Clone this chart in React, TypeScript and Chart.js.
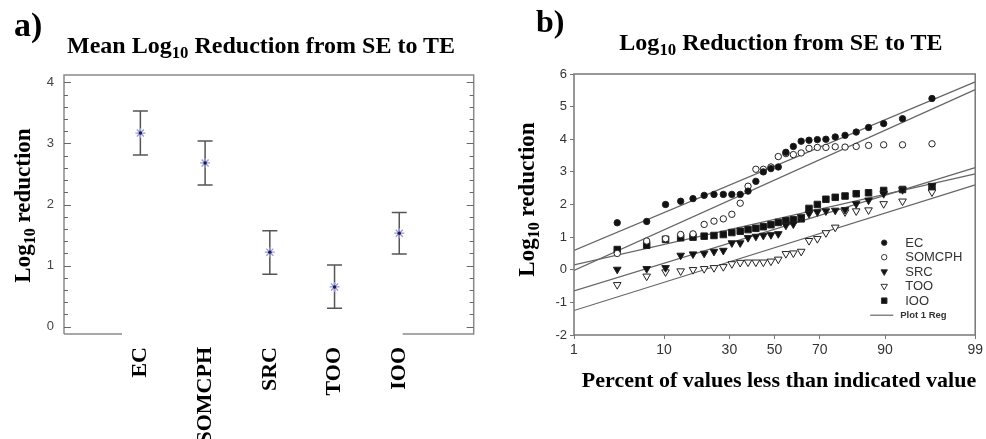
import React, { useEffect, useRef } from 'react';
import { Chart, registerables, LinearScale } from 'chart.js';
import { drawPoint } from 'chart.js/helpers';

// ---------- Panel a: mean log10 reduction (± interval) per organism ----------
const organisms = ['EC', 'SOMCPH', 'SRC', 'TOO', 'IOO'];
const meanReduction = [3.17, 2.68, 1.22, 0.65, 1.53];
const lowerBound = [2.81, 2.32, 0.86, 0.3, 1.19];
const upperBound = [3.53, 3.04, 1.57, 1.01, 1.87];
const meanAxisTicks = [0, 1, 2, 3, 4];

// ---------- Panel b: probability plot of individual reductions ----------
const percentPositions = [
  3.4, 6.9, 10.3, 13.8, 17.2, 20.7, 24.1, 27.6, 31.0, 34.5, 37.9, 41.4, 44.8, 48.3,
  51.7, 55.2, 58.6, 62.1, 65.5, 69.0, 72.4, 75.9, 79.3, 82.8, 86.2, 89.7, 93.1, 96.6,
];
const ecValues = [
  1.44, 1.48, 2.0, 2.1, 2.18, 2.28, 2.31, 2.31, 2.31, 2.31, 2.41, 2.71, 3.0, 3.1,
  3.15, 3.6, 3.78, 3.94, 3.97, 3.99, 4.0, 4.07, 4.12, 4.22, 4.36, 4.48, 4.63, 5.25,
];
const somcphValues = [
  0.5, 0.88, 0.95, 1.08, 1.1, 1.39, 1.49, 1.56, 1.7, 2.04, 2.56, 3.08, 3.08, 3.15,
  3.47, 3.56, 3.53, 3.58, 3.72, 3.75, 3.75, 3.77, 3.76, 3.78, 3.81, 3.83, 3.83, 3.86,
];
const srcValues = [
  0.01, 0.03, 0.06, 0.44, 0.48, 0.5, 0.56, 0.59, 0.82, 0.82, 0.98, 1.02, 1.05, 1.07,
  1.1, 1.36, 1.4, 1.62, 1.72, 1.77, 1.8, 1.82, 1.84, 2.02, 2.13, 2.33, 2.45, 2.58,
];
const tooValues = [
  -0.46, -0.2, -0.07, -0.04, 0.0, 0.03, 0.06, 0.09, 0.18, 0.22, 0.23, 0.23, 0.23, 0.26,
  0.32, 0.49, 0.51, 0.56, 0.89, 0.95, 1.13, 1.3, 1.77, 1.8, 1.83, 2.02, 2.1, 2.38,
];
const iooValues = [
  0.62, 0.75, 0.93, 0.98, 1.0, 1.03, 1.05, 1.08, 1.14, 1.18, 1.23, 1.27, 1.32, 1.38,
  1.45, 1.5, 1.53, 1.56, 1.88, 2.0, 2.16, 2.22, 2.26, 2.33, 2.36, 2.43, 2.46, 2.54,
];
// regression line ends at the 1% and 99% positions (EC, SOMCPH, SRC, TOO, IOO)
const regressionAt1 = [0.59, -0.02, -0.65, -1.25, 0.15];
const regressionAt99 = [5.76, 5.52, 3.13, 2.6, 2.94];
const regressionPercents = [1, 99];
const percentTicks = [1, 10, 30, 50, 70, 90, 99];
const reductionTicks = [-2, -1, 0, 1, 2, 3, 4, 5, 6];

const SERIF = '"Liberation Serif", "Times New Roman", serif';
const SANS = '"Liberation Sans", Arial, sans-serif';

// ---------- normal probability helpers for the percent axis ----------
function probit(p: number): number {
  const a = [-39.69683028665376, 220.9460984245205, -275.9285104469687, 138.357751867269, -30.66479806614716, 2.506628277459239];
  const b = [-54.47609879822406, 161.5858368580409, -155.6989798598866, 66.80131188771972, -13.28068155288572];
  const c = [-0.007784894002430293, -0.3223964580411365, -2.400758277161838, -2.549732539343734, 4.374664141464968, 2.938163982698783];
  const d = [0.007784695709041462, 0.3224671290700398, 2.445134137142996, 3.754408661907416];
  const pl = 0.02425;
  if (p < pl) {
    const q = Math.sqrt(-2 * Math.log(p));
    return (((((c[0] * q + c[1]) * q + c[2]) * q + c[3]) * q + c[4]) * q + c[5]) / ((((d[0] * q + d[1]) * q + d[2]) * q + d[3]) * q + 1);
  }
  if (p <= 1 - pl) {
    const q = p - 0.5;
    const r = q * q;
    return ((((((a[0] * r + a[1]) * r + a[2]) * r + a[3]) * r + a[4]) * r + a[5]) * q) / (((((b[0] * r + b[1]) * r + b[2]) * r + b[3]) * r + b[4]) * r + 1);
  }
  const q = Math.sqrt(-2 * Math.log(1 - p));
  return -(((((c[0] * q + c[1]) * q + c[2]) * q + c[3]) * q + c[4]) * q + c[5]) / ((((d[0] * q + d[1]) * q + d[2]) * q + d[3]) * q + 1);
}

function normalCdf(z: number): number {
  const t = 1 / (1 + 0.3275911 * Math.abs(z) / Math.SQRT2);
  const y = 1 - (((((1.061405429 * t - 1.453152027) * t) + 1.421413741) * t - 0.284496736) * t + 0.254829592) * t * Math.exp(-(z * z) / 2);
  return z >= 0 ? (1 + y) / 2 : (1 - y) / 2;
}

// Percent axis spaced by normal quantiles
class ProbabilityScale extends LinearScale {
  static id = 'probability';
  static defaults = {};
  zStart = 0;
  zRange = 1;
  buildTicks() {
    return [];
  }
  configure() {
    super.configure();
    this.zStart = probit(this.min / 100);
    this.zRange = probit(this.max / 100) - this.zStart;
  }
  getPixelForValue(value: number) {
    if (value === null || value === undefined) return NaN;
    return this.getPixelForDecimal((probit(value / 100) - this.zStart) / this.zRange);
  }
  getValueForPixel(pixel: number) {
    return 100 * normalCdf(this.zStart + this.getDecimalForPixel(pixel) * this.zRange);
  }
}

Chart.register(...registerables, ProbabilityScale);

// ---------- Panel a plugins ----------
const errorBarPlugin = {
  id: 'errorBars',
  beforeDatasetsDraw(chart: any) {
    const { ctx, scales } = chart;
    const xs = scales.x;
    const ys = scales.y;
    ctx.save();
    ctx.strokeStyle = '#555';
    ctx.lineWidth = 1.5;
    organisms.forEach((_, i) => {
      const x = xs.getPixelForValue(i + 1);
      const yLo = ys.getPixelForValue(lowerBound[i]);
      const yHi = ys.getPixelForValue(upperBound[i]);
      ctx.beginPath();
      ctx.moveTo(x, yLo);
      ctx.lineTo(x, yHi);
      ctx.moveTo(x - 7.5, yLo);
      ctx.lineTo(x + 7.5, yLo);
      ctx.moveTo(x - 7.5, yHi);
      ctx.lineTo(x + 7.5, yHi);
      ctx.stroke();
    });
    ctx.restore();
  },
};

const frameAPlugin = {
  id: 'frameA',
  afterDraw(chart: any) {
    const { ctx, chartArea: a, scales } = chart;
    const ys = scales.y;
    ctx.save();
    ctx.strokeStyle = '#8a8a8a';
    ctx.lineWidth = 1.5;
    ctx.beginPath();
    ctx.moveTo(a.left, a.bottom);
    ctx.lineTo(a.left, a.top);
    ctx.lineTo(a.right, a.top);
    ctx.lineTo(a.right, a.bottom);
    ctx.lineTo(a.right - 71, a.bottom);
    ctx.moveTo(a.left, a.bottom);
    ctx.lineTo(a.left + 58, a.bottom);
    ctx.stroke();
    // inside tick marks on both vertical axes, minor every 0.2
    ctx.lineWidth = 1;
    ctx.strokeStyle = '#666';
    ctx.beginPath();
    for (let i = 0; i <= 20; i++) {
      const v = i * 0.2;
      const y = Math.round(ys.getPixelForValue(v)) + 0.5;
      const len = i % 5 === 0 ? 7 : 4;
      ctx.moveTo(a.left, y);
      ctx.lineTo(a.left + len, y);
      ctx.moveTo(a.right, y);
      ctx.lineTo(a.right - len, y);
    }
    ctx.stroke();
    ctx.restore();
  },
};

// ---------- Panel b plugins ----------
type SeriesStyle = {
  label: string;
  values: number[];
  pointStyle: string;
  radius: number;
  rotation: number;
  fill: string;
};

const seriesStyles: SeriesStyle[] = [
  { label: 'EC', values: ecValues, pointStyle: 'circle', radius: 3.2, rotation: 0, fill: '#111' },
  { label: 'SOMCPH', values: somcphValues, pointStyle: 'circle', radius: 3.2, rotation: 0, fill: '#fff' },
  { label: 'SRC', values: srcValues, pointStyle: 'triangle', radius: 4.4, rotation: 180, fill: '#111' },
  { label: 'TOO', values: tooValues, pointStyle: 'triangle', radius: 4.4, rotation: 180, fill: '#fff' },
  { label: 'IOO', values: iooValues, pointStyle: 'rect', radius: 4.6, rotation: 0, fill: '#111' },
];

const frameBPlugin = {
  id: 'frameB',
  afterDatasetsDraw(chart: any) {
    const { ctx, chartArea: a } = chart;
    ctx.save();
    ctx.strokeStyle = '#777';
    ctx.lineWidth = 1.5;
    ctx.strokeRect(a.left, a.top, a.right - a.left, a.bottom - a.top);
    ctx.restore();
  },
};

const legendBPlugin = {
  id: 'legendB',
  afterDraw(chart: any) {
    const { ctx, chartArea: a } = chart;
    const markerX = a.right - 91;
    const textX = a.right - 70;
    const firstY = a.bottom - 92.3;
    const step = 14.5;
    ctx.save();
    ctx.font = `13px ${SANS}`;
    ctx.textBaseline = 'middle';
    ctx.textAlign = 'left';
    seriesStyles.forEach((s, i) => {
      const y = firstY + i * step;
      ctx.fillStyle = s.fill;
      ctx.strokeStyle = '#333';
      ctx.lineWidth = 1;
      drawPoint(ctx, { pointStyle: s.pointStyle, rotation: s.rotation, radius: s.radius * 0.85, borderWidth: 1 } as any, markerX, y);
      ctx.fillStyle = '#333';
      ctx.fillText(s.label, textX, y + 0.5);
    });
    const yReg = firstY + seriesStyles.length * step;
    ctx.strokeStyle = '#666';
    ctx.lineWidth = 1.2;
    ctx.beginPath();
    ctx.moveTo(a.right - 105, yReg);
    ctx.lineTo(a.right - 82, yReg);
    ctx.stroke();
    ctx.fillStyle = '#333';
    ctx.font = `bold 9.5px ${SANS}`;
    ctx.fillText('Plot 1 Reg', a.right - 75, yReg);
    ctx.restore();
  },
};

function PanelA() {
  const ref = useRef<HTMLCanvasElement>(null);
  useEffect(() => {
    if (!ref.current) return;
    const points = organisms.map((_, i) => ({ x: i + 1, y: meanReduction[i] }));
    const chart = new Chart(ref.current, {
      type: 'scatter',
      data: {
        datasets: [
          // dark centre dot sits on top of the asterisk
          {
            label: 'Mean centre',
            data: points,
            pointStyle: 'circle',
            pointRadius: 1.7,
            backgroundColor: '#1c1c48',
            borderWidth: 0,
          },
          {
            label: 'Mean',
            data: points,
            pointStyle: 'star',
            pointRadius: 5,
            borderColor: '#9a9ad8',
            backgroundColor: '#9a9ad8',
            borderWidth: 1.3,
          },
        ],
      },
      options: {
        responsive: false,
        animation: false,
        devicePixelRatio: 1,
        layout: { padding: { left: 0, top: 75, right: 4, bottom: 0 } },
        plugins: { legend: { display: false }, tooltip: { enabled: false } },
        scales: {
          x: {
            type: 'linear',
            min: -0.18,
            max: 6.15,
            afterBuildTicks: (s: any) => {
              s.ticks = organisms.map((_, i) => ({ value: i + 1 }));
            },
            afterFit: (s: any) => {
              s.height = 105;
            },
            grid: { display: false, drawTicks: false },
            border: { display: false },
            ticks: {
              autoSkip: false,
              minRotation: 90,
              maxRotation: 90,
              padding: 13,
              color: '#000',
              font: { family: SERIF, size: 22, weight: 'bold' },
              callback: (v: any) => organisms[Math.round(Number(v)) - 1] ?? '',
            },
          },
          y: {
            type: 'linear',
            min: -0.12,
            max: 4.12,
            afterBuildTicks: (s: any) => {
              s.ticks = meanAxisTicks.map((v) => ({ value: v }));
            },
            afterFit: (s: any) => {
              s.width = 64;
            },
            grid: { display: false, drawTicks: false },
            border: { display: false },
            ticks: { padding: 10, color: '#444', font: { family: SANS, size: 13 } },
          },
        },
      } as any,
      plugins: [errorBarPlugin, frameAPlugin],
    });
    return () => chart.destroy();
  }, []);
  return <canvas ref={ref} width={480} height={439} style={{ position: 'absolute', left: 0, top: 0, width: 480, height: 439 }} />;
}

function PanelB() {
  const ref = useRef<HTMLCanvasElement>(null);
  useEffect(() => {
    if (!ref.current) return;
    const scatterSets = seriesStyles.map((s) => ({
      label: s.label,
      data: percentPositions.map((p, i) => ({ x: p, y: s.values[i] })),
      pointStyle: s.pointStyle,
      pointRadius: s.radius,
      rotation: s.rotation,
      backgroundColor: s.fill,
      borderColor: '#222',
      borderWidth: 1,
      order: 1,
    }));
    const regressionSets = seriesStyles.map((s, k) => ({
      label: `${s.label} regression`,
      data: regressionPercents.map((p, j) => ({ x: p, y: j === 0 ? regressionAt1[k] : regressionAt99[k] })),
      showLine: true,
      pointRadius: 0,
      borderColor: '#666',
      borderWidth: 1.2,
      order: 2,
    }));
    const chart = new Chart(ref.current, {
      type: 'scatter',
      data: { datasets: [...regressionSets, ...scatterSets] },
      options: {
        responsive: false,
        animation: false,
        devicePixelRatio: 1,
        layout: { padding: { left: 0, top: 74, right: 9, bottom: 74 } },
        plugins: { legend: { display: false }, tooltip: { enabled: false } },
        scales: {
          x: {
            type: 'probability',
            position: 'bottom',
            min: 1,
            max: 99,
            afterBuildTicks: (s: any) => {
              s.ticks = percentTicks.map((v) => ({ value: v }));
            },
            afterFit: (s: any) => {
              s.height = 30;
            },
            grid: { drawOnChartArea: false, tickLength: 4, color: '#777' },
            border: { display: false },
            ticks: {
              autoSkip: false,
              maxRotation: 0,
              padding: 3,
              color: '#333',
              font: { family: SANS, size: 14 },
              callback: (v: any) => String(v),
            },
          },
          y: {
            type: 'linear',
            min: -2,
            max: 6,
            afterBuildTicks: (s: any) => {
              s.ticks = reductionTicks.map((v) => ({ value: v }));
            },
            afterFit: (s: any) => {
              s.width = 94;
            },
            grid: { drawOnChartArea: false, tickLength: 4, color: '#777' },
            border: { display: false },
            ticks: { padding: 3, color: '#333', font: { family: SANS, size: 13 } },
          },
        },
      } as any,
      plugins: [frameBPlugin, legendBPlugin],
    });
    return () => chart.destroy();
  }, []);
  return <canvas ref={ref} width={506} height={439} style={{ position: 'absolute', left: 480, top: 0, width: 506, height: 439 }} />;
}

const sub = (text: string) => (
  <span style={{ fontSize: '0.7em', position: 'relative', top: '0.3em' }}>{text}</span>
);

const textBase: React.CSSProperties = {
  position: 'absolute',
  fontFamily: SERIF,
  fontWeight: 'bold',
  lineHeight: 1,
  whiteSpace: 'nowrap',
  color: '#000',
};

export default function App() {
  return (
    <div style={{ position: 'absolute', left: 0, top: 0, width: 986, height: 439, background: '#fff', overflow: 'hidden' }}>
      <PanelA />
      <PanelB />
      <div style={{ ...textBase, fontSize: 34, left: 14, top: 8 }}>a)</div>
      <div style={{ ...textBase, fontSize: 32, left: 536, top: 5 }}>b)</div>
      <div style={{ ...textBase, fontSize: 24, left: 261 - 300, width: 600, textAlign: 'center', top: 33 }}>
        Mean Log{sub('10')} Reduction from SE to TE
      </div>
      <div style={{ ...textBase, fontSize: 24, left: 781 - 300, width: 600, textAlign: 'center', top: 30 }}>
        Log{sub('10')} Reduction from SE to TE
      </div>
      <div style={{ ...textBase, fontSize: 22, left: 779 - 300, width: 600, textAlign: 'center', top: 369 }}>
        Percent of values less than indicated value
      </div>
      <div
        style={{
          ...textBase,
          fontSize: 23,
          lineHeight: '23px',
          width: 240,
          height: 23,
          textAlign: 'center',
          left: 21.5 - 120,
          top: 205 - 11.5,
          transform: 'rotate(-90deg)',
        }}
      >
        Log{sub('10')} reduction
      </div>
      <div
        style={{
          ...textBase,
          fontSize: 23,
          lineHeight: '23px',
          width: 240,
          height: 23,
          textAlign: 'center',
          left: 526 - 120,
          top: 199 - 11.5,
          transform: 'rotate(-90deg)',
        }}
      >
        Log{sub('10')} reduction
      </div>
    </div>
  );
}
